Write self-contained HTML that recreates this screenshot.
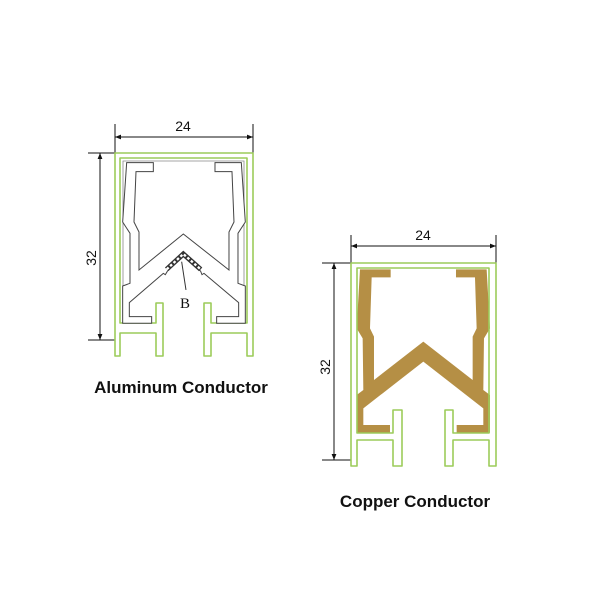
<!DOCTYPE html>
<html><head><meta charset="utf-8"><style>
html,body{margin:0;padding:0;background:#fff;}
svg{display:block;}
</style></head><body>
<svg width="600" height="600" viewBox="0 0 600 600" xmlns="http://www.w3.org/2000/svg">
<rect width="600" height="600" fill="#fff"/>
<defs>
<marker id="ar" viewBox="0 0 10 10" refX="10" refY="5" markerWidth="10" markerHeight="6" orient="auto-start-reverse" markerUnits="userSpaceOnUse"><path d="M0,1 L10,5 L0,9 Z" fill="#111"/></marker>
</defs>

<g stroke="#111" stroke-width="1" fill="none">
<line x1="115" y1="124" x2="115" y2="153"/>
<line x1="253" y1="124" x2="253" y2="153"/>
<line x1="115" y1="137" x2="253" y2="137" marker-start="url(#ar)" marker-end="url(#ar)"/>
<line x1="88" y1="153" x2="115" y2="153"/>
<line x1="88" y1="340" x2="115" y2="340"/>
<line x1="100" y1="153" x2="100" y2="340" marker-start="url(#ar)" marker-end="url(#ar)"/>
</g>
<text x="183" y="131" font-family="Liberation Sans, sans-serif" font-size="14" text-anchor="middle" fill="#111">24</text>
<text x="0" y="0" transform="translate(96,258) rotate(-90)" font-family="Liberation Sans, sans-serif" font-size="14" text-anchor="middle" fill="#111">32</text>

<path d="M115,356 V153 H253 V356 H247 V333 H211 V356 H204 V303 H211 V323 H247 V158 H120 V323 H156 V303 H163 V356 H156 V333 H120 V356 Z" fill="none" stroke="#9ccc5a" stroke-width="1.6" stroke-linejoin="round"/>
<path d="M123,321 V161 H244 V321" fill="none" stroke="#888" stroke-width="0.8"/>

<g transform="translate(80,110) scale(0.3333)">
<path d="M140,158 L220,158 L220,185 L168,185 L162,336 L177,366 L177,480 L310,372 L447,480 L447,366 L462,336 L456,185 L405,185 L405,158 L484,158 L496,336 L474,370 L474,520 L496,528 L496,640 L410,640 L410,620 L476,620 L476,578 L372,490 L366,494 L362,484 L312,432 L262,484 L256,494 L250,490 L148,578 L148,620 L215,620 L215,640 L128,640 L128,528 L150,520 L150,370 L128,336 Z" fill="#fff" stroke="#444" stroke-width="3" stroke-linejoin="miter"/>
<path d="M260,478 L310,432 L362,478" fill="none" stroke="#333" stroke-width="15"/>
<path d="M260,478 L310,432 L362,478" fill="none" stroke="#fff" stroke-width="7" stroke-dasharray="8 6"/>
<line x1="305" y1="455" x2="318" y2="540" stroke="#333" stroke-width="3"/>
</g>
<text x="185" y="308" font-family="Liberation Serif, serif" font-size="15" text-anchor="middle" fill="#111">B</text>

<text x="181" y="393" font-family="Liberation Sans, sans-serif" font-size="17" font-weight="bold" text-anchor="middle" fill="#111">Aluminum Conductor</text>

<g stroke="#111" stroke-width="1" fill="none">
<line x1="351" y1="235" x2="351" y2="263"/>
<line x1="496" y1="235" x2="496" y2="263"/>
<line x1="351" y1="246" x2="496" y2="246" marker-start="url(#ar)" marker-end="url(#ar)"/>
<line x1="322" y1="263" x2="351" y2="263"/>
<line x1="322" y1="460" x2="351" y2="460"/>
<line x1="334" y1="263" x2="334" y2="460" marker-start="url(#ar)" marker-end="url(#ar)"/>
</g>
<text x="423" y="240" font-family="Liberation Sans, sans-serif" font-size="14" text-anchor="middle" fill="#111">24</text>
<text x="0" y="0" transform="translate(330,367) rotate(-90)" font-family="Liberation Sans, sans-serif" font-size="14" text-anchor="middle" fill="#111">32</text>

<g transform="translate(310,220) scale(0.3333)">
<path d="M150,148 L242,148 L242,172 L185,172 L180,325 L192,350 L192,480 L340,365 L488,480 L488,350 L500,325 L495,172 L438,172 L438,148 L530,148 L540,325 L522,355 L520,510 L540,525 L540,638 L440,638 L440,615 L520,615 L520,565 L340,425 L160,565 L160,615 L240,615 L240,638 L140,638 L140,525 L160,510 L158,355 L140,325 Z" fill="#b58f45"/>
</g>

<path d="M351,466 V263 H496 V466 H489 V440 H453 V466 H445 V410 H453 V433 H489 V268 H357 V433 H393 V410 H402 V466 H393 V440 H357 V466 Z" fill="none" stroke="#9ccc5a" stroke-width="1.6" stroke-linejoin="round"/>

<text x="415" y="507" font-family="Liberation Sans, sans-serif" font-size="17" font-weight="bold" text-anchor="middle" fill="#111">Copper Conductor</text>
</svg>
</body></html>
